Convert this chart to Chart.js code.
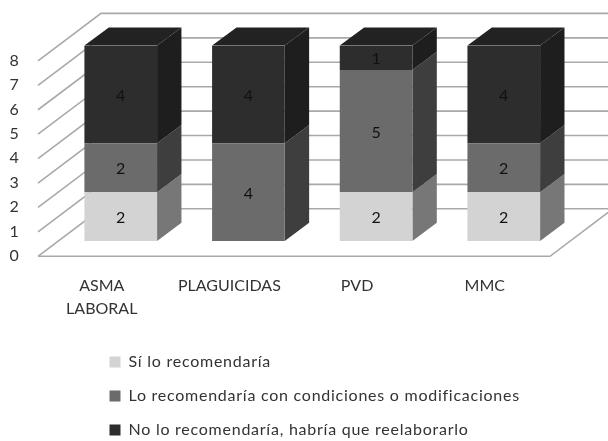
<!DOCTYPE html>
<html lang="es">
<head>
<meta charset="utf-8">
<title>Recomendación de protocolos</title>
<script src="https://cdn.jsdelivr.net/npm/chart.js@4"></script>
<style>
  html, body { margin: 0; padding: 0; background: #fff; }
  canvas { display: block; }
</style>
</head>
<body>
<canvas id="chart" width="608" height="441"></canvas>
<script>
const categories = [['ASMA', 'LABORAL'], 'PLAGUICIDAS', 'PVD', 'MMC'];
const seriesNames = [
  'Sí lo recomendaría',
  'Lo recomendaría con condiciones o modificaciones',
  'No lo recomendaría, habría que reelaborarlo'
];
const siValues = [2, 0, 2, 2];
const condicionesValues = [2, 4, 5, 2];
const noValues = [4, 4, 1, 4];
const yTicks = [0, 1, 2, 3, 4, 5, 6, 7, 8];

const frontColors = ['#d3d3d3', '#6b6b6b', '#2d2d2d'];
const sideColors = ['#777777', '#3e3e3e', '#1e1e1e'];
const topColor = '#222222';
const gridColor = '#a9a9a9';
const textColor = '#333333';
const fontFamily = 'Lato, "Open Sans", sans-serif';

// Oblique projection used for the walls, the floor and the column depth
const barDepth = { dx: 24.4, dy: 18.2 };
const wall = { frontX: 38, backX: 101, frontShift: 15.3, backShift: -32.2, floorFrontRight: 550 };

const box3d = {
  id: 'box3d',
  afterLayout(chart) {
    // Stack the legend in a left-aligned column under the axis labels
    const legend = chart.legend;
    legend.left = 91.5;
    legend.right = 608;
    legend.top = 336;
    legend.bottom = 441;
    // The legend text is set slightly wider than the axis text
    if (!legend.spacedDraw) {
      const plainDraw = legend.draw;
      legend.spacedDraw = true;
      legend.draw = function () {
        chart.ctx.letterSpacing = '0.75px';
        plainDraw.call(this);
        chart.ctx.letterSpacing = '0px';
      };
    }
  },
  beforeDatasetsDraw(chart) {
    const { ctx, scales: { y } } = chart;
    ctx.save();
    ctx.strokeStyle = gridColor;
    ctx.lineWidth = 1.6;
    yTicks.forEach(v => {
      const p = y.getPixelForValue(v);
      ctx.beginPath();
      ctx.moveTo(wall.frontX, p + wall.frontShift);
      ctx.lineTo(wall.backX, p + wall.backShift);
      ctx.lineTo(chart.width, p + wall.backShift);
      ctx.stroke();
    });
    // Front and right edges of the floor
    const p0 = y.getPixelForValue(0);
    ctx.beginPath();
    ctx.moveTo(wall.frontX, p0 + wall.frontShift);
    ctx.lineTo(wall.floorFrontRight, p0 + wall.frontShift);
    ctx.lineTo(wall.floorFrontRight + (wall.backX - wall.frontX), p0 + wall.backShift);
    ctx.stroke();

    // Side and top faces of every column segment
    const { dx, dy } = barDepth;
    const last = chart.data.datasets.length - 1;
    chart.data.datasets.forEach((ds, di) => {
      chart.getDatasetMeta(di).data.forEach((bar, i) => {
        if (!ds.data[i]) return;
        const right = bar.x + bar.width / 2;
        const left = bar.x - bar.width / 2;
        ctx.fillStyle = sideColors[di];
        ctx.beginPath();
        ctx.moveTo(right, bar.y);
        ctx.lineTo(right + dx, bar.y - dy);
        ctx.lineTo(right + dx, bar.base - dy);
        ctx.lineTo(right, bar.base);
        ctx.closePath();
        ctx.fill();
        if (di === last) {
          ctx.fillStyle = topColor;
          ctx.beginPath();
          ctx.moveTo(left, bar.y);
          ctx.lineTo(left + dx, bar.y - dy);
          ctx.lineTo(right + dx, bar.y - dy);
          ctx.lineTo(right, bar.y);
          ctx.closePath();
          ctx.fill();
        }
      });
    });
    ctx.restore();
  },
  afterDatasetsDraw(chart) {
    // Value label centred on each front face
    const { ctx } = chart;
    ctx.save();
    ctx.font = '16px ' + fontFamily;
    ctx.fillStyle = '#111111';
    ctx.textAlign = 'center';
    ctx.textBaseline = 'middle';
    chart.data.datasets.forEach((ds, di) => {
      chart.getDatasetMeta(di).data.forEach((bar, i) => {
        if (!ds.data[i]) return;
        ctx.fillText(String(ds.data[i]), bar.x, (bar.y + bar.base) / 2 + 1.5);
      });
    });
    ctx.restore();
  }
};

const datasets = [siValues, condicionesValues, noValues].map((values, i) => ({
  label: seriesNames[i],
  data: values,
  backgroundColor: frontColors[i],
  borderWidth: 0,
  barPercentage: 0.569,
  categoryPercentage: 1
}));

new Chart(document.getElementById('chart'), {
  type: 'bar',
  data: { labels: categories, datasets },
  plugins: [box3d],
  options: {
    responsive: false,
    animation: false,
    layout: { padding: { left: 0, right: 40.4, top: 45.6, bottom: 0 } },
    plugins: {
      tooltip: { enabled: false },
      legend: {
        position: 'bottom',
        align: 'start',
        maxWidth: 200,
        labels: {
          boxWidth: 11,
          boxHeight: 11,
          padding: 18,
          color: textColor,
          font: { family: fontFamily, size: 16 }
        }
      }
    },
    scales: {
      x: {
        stacked: true,
        grid: { display: false },
        border: { display: false },
        afterFit(axis) { axis.height = 88; },
        ticks: {
          autoSkip: false,
          maxRotation: 0,
          padding: 25,
          labelOffset: -19,
          color: textColor,
          font: { family: fontFamily, size: 16, lineHeight: 1.44 }
        }
      },
      y: {
        stacked: true,
        min: 0,
        max: 8,
        grid: { display: false },
        border: { display: false },
        afterFit(axis) { axis.width = 56.9; },
        ticks: {
          stepSize: 1,
          autoSkip: false,
          padding: 30,
          labelOffset: 15,
          color: textColor,
          font: { family: fontFamily, size: 16 }
        }
      }
    }
  }
});
</script>
</body>
</html>
